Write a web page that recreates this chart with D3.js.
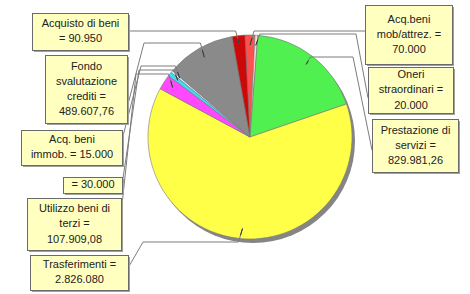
<!DOCTYPE html>
<html>
<head>
<meta charset="utf-8">
<script src="https://cdn.jsdelivr.net/npm/d3@7"></script>
<style>
  html, body { margin: 0; padding: 0; background: #fff; }
  svg { display: block; }
</style>
</head>
<body>
<div id="chart"></div>
<script>
// slice data, clockwise from the top
const categories = ['Acq.beni mob/attrez.', 'Oneri straordinari', 'Prestazione di servizi', 'Trasferimenti',
  'Utilizzo beni di terzi', '', 'Acq. beni immob.', 'Fondo svalutazione crediti', 'Acquisto di beni'];
const values = [70000, 20000, 829981.26, 2826080, 107909.08, 30000, 15000, 489607.76, 90950];
const colors = ['#ff5050', '#ffd8d8', '#50f050', '#ffff48', '#ff48ff', '#48d8f0', '#c8f8ff', '#8a8a8a', '#cc0808'];

// label layout (box + leader route), same order as the data
const labelLayout = [
  { lines: ['Acq.beni', 'mob/attrez. =', '{v}'], box: [365, 5, 87, 59], hy: 31, hx: 362, at: [365, 31] },
  { lines: ['Oneri', 'straordinari =', '{v}'], box: [368, 67, 85, 46], hy: 34, hx: 356, at: [368, 98] },
  { lines: ['Prestazione di', 'servizi =', '{v}'], box: [372, 119, 86, 53], hy: 57, hx: 353, at: [372, 150] },
  { lines: ['Trasferimenti =', '{v}'], box: [30, 255, 98, 35], hy: 242, hx: 143, at: [128, 268] },
  { lines: ['Utilizzo beni di', 'terzi =', '{v}'], box: [27, 198, 94, 52], hy: 74, hx: 136, at: [121, 214] },
  { lines: ['= {v}'], box: [63, 177, 59, 16], hy: 70, hx: 139, at: [122, 185] },
  { lines: ['Acq. beni', 'immob. = {v}'], box: [21, 130, 101, 35], hy: 66, hx: 141, at: [122, 140] },
  { lines: ['Fondo', 'svalutazione', 'crediti =', '{v}'], box: [45, 55, 82, 68], hy: 43, hx: 144, at: [127, 108] },
  { lines: ['Acquisto di beni', '= {v}'], box: [32, 13, 96, 37], hy: 31, hx: 128, at: [128, 31] }
];

const width = 470;
const height = 294;
const cx = 250;
const cy = 137;
const radius = 102;

const it = d3.formatLocale({ decimal: ',', thousands: '.', grouping: [3], currency: ['€', ''] });
const fmtInt = it.format(',.0f');
const fmtDec = it.format(',.2f');
const fmt = (v) => (Number.isInteger(v) ? fmtInt(v) : fmtDec(v));

const svg = d3.select('#chart').append('svg')
  .attr('width', width)
  .attr('height', height);

const total = d3.sum(values);
const start = -values[0] / total * Math.PI;

const pie = d3.pie()
  .sort(null)
  .value((d) => d)
  .startAngle(start)
  .endAngle(start + 2 * Math.PI);

const arcs = pie(values);
const arc = d3.arc().innerRadius(0).outerRadius(radius);
const anchorArc = d3.arc().innerRadius(radius * 0.9).outerRadius(radius * 0.9);

// pie shadow
svg.append('circle')
  .attr('cx', cx + 3)
  .attr('cy', cy + 4)
  .attr('r', radius)
  .attr('fill', '#858585');

const pieG = svg.append('g').attr('transform', `translate(${cx},${cy})`);

pieG.selectAll('path')
  .data(arcs)
  .join('path')
  .attr('d', arc)
  .attr('fill', (d, i) => colors[i])
  .attr('stroke', '#7a7a7a')
  .attr('stroke-width', 0.6);

// leader lines
const lineG = svg.append('g');
arcs.forEach((d, i) => {
  const L = labelLayout[i];
  const c = anchorArc.centroid(d);
  const ax = cx + c[0];
  const ay = cy + c[1];
  const right = L.at[0] > cx;
  const bx = ax + (right ? 4 : -4) * (Math.abs(ay - L.hy) > 6 ? 1 : 0.4);
  const pts = [[ax, ay], [bx, L.hy], [L.hx, L.hy], L.at];
  lineG.append('path')
    .attr('d', d3.line()(pts))
    .attr('fill', 'none')
    .attr('stroke', '#7c7c7c')
    .attr('stroke-width', 1);
  // dark tick inside the slice
  lineG.append('path')
    .attr('d', d3.line()([[ax, ay], [ax + (bx - ax) * 0.5, ay + (L.hy - ay) * 0.5]]))
    .attr('stroke', '#333')
    .attr('stroke-width', 1);
});

// label boxes
const labelG = svg.append('g')
  .attr('font-family', 'Liberation Sans, Arial, sans-serif')
  .attr('font-size', 11)
  .attr('fill', '#222');

labelLayout.forEach((L, i) => {
  const [x, y, w, h] = L.box;
  labelG.append('rect')
    .attr('x', x + 2).attr('y', y + 2)
    .attr('width', w).attr('height', h)
    .attr('fill', '#a0a0a0');
  labelG.append('rect')
    .attr('x', x + 0.5).attr('y', y + 0.5)
    .attr('width', w).attr('height', h)
    .attr('fill', '#ffffc0')
    .attr('stroke', '#6a6a6a')
    .attr('stroke-width', 1);
  const lh = 15.2;
  const top = y + h / 2 - (L.lines.length * lh) / 2 + lh * 0.72;
  L.lines.forEach((s, j) => {
    labelG.append('text')
      .attr('x', x + w / 2 + 0.5)
      .attr('y', top + j * lh)
      .attr('text-anchor', 'middle')
      .text(s.replace('{v}', fmt(values[i])));
  });
});
</script>
</body>
</html>
